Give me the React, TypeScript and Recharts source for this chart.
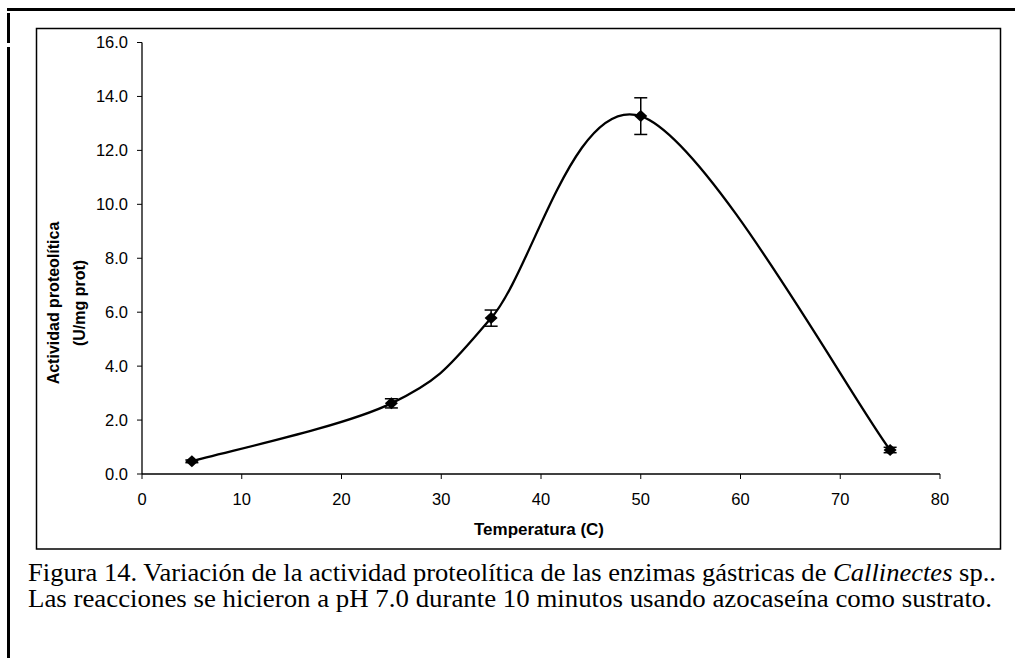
import React from "react";
import { LineChart, Line, XAxis, YAxis, ErrorBar } from "recharts";

// Actividad proteolítica vs temperatura
const temperatures = [5, 25, 35, 50, 75];
const activity = [0.47, 2.62, 5.78, 13.27, 0.89];
const activityError = [0.05, 0.17, 0.3, 0.68, 0.1];

const xTicks = [0, 10, 20, 30, 40, 50, 60, 70, 80];
const yTicks = [0, 2, 4, 6, 8, 10, 12, 14, 16];

const data = temperatures.map((t, i) => ({
  t,
  value: activity[i],
  err: activityError[i],
}));

// smoothed line like the spreadsheet one (catmull-rom tangents, 1/6)
const smoothCurve = (context: any) => {
  let pts: number[][] = [];
  return {
    areaStart() {},
    areaEnd() {},
    lineStart() {
      pts = [];
    },
    point(x: number, y: number) {
      pts.push([+x, +y]);
    },
    lineEnd() {
      const n = pts.length;
      if (!n) return;
      context.moveTo(pts[0][0], pts[0][1]);
      for (let i = 0; i < n - 1; i++) {
        const p0 = pts[Math.max(i - 1, 0)];
        const p1 = pts[i];
        const p2 = pts[i + 1];
        const p3 = pts[Math.min(i + 2, n - 1)];
        context.bezierCurveTo(
          p1[0] + (p2[0] - p0[0]) / 6,
          p1[1] + (p2[1] - p0[1]) / 6,
          p2[0] - (p3[0] - p1[0]) / 6,
          p2[1] - (p3[1] - p1[1]) / 6,
          p2[0],
          p2[1]
        );
      }
    },
  };
};

const renderDiamond = (props: any) => {
  const { cx, cy, index } = props;
  if (cx == null || cy == null) return null;
  return (
    <polygon
      key={`d-${index}`}
      points={`${cx},${cy - 6} ${cx + 6.5},${cy} ${cx},${cy + 6} ${cx - 6.5},${cy}`}
      fill="#000"
    />
  );
};

const tickStyle = { fill: "#000", fontSize: 16.5, fontFamily: "'Liberation Sans', Arial, sans-serif" };
const titleFont = "'Liberation Sans', Arial, sans-serif";
const captionFont = "'Liberation Serif', 'Times New Roman', serif";

const App: React.FC = () => {
  return (
    <div style={{ position: "absolute", left: 0, top: 0, width: 1015, height: 658, background: "#fff", overflow: "hidden" }}>
      <div style={{ position: "absolute", left: 0, top: 0 }}>
        <LineChart width={1015} height={658} data={data} margin={{ top: 42.5, right: 75, bottom: 124, left: 42 }}>
          <XAxis
            type="number"
            dataKey="t"
            domain={[0, 80]}
            ticks={xTicks}
            interval={0}
            height={60}
            tickSize={5}
            tickMargin={14}
            tick={tickStyle}
            axisLine={{ stroke: "#000", strokeWidth: 1.3 }}
            tickLine={{ stroke: "#000" }}
          />
          <YAxis
            type="number"
            domain={[0, 16]}
            ticks={yTicks}
            interval={0}
            width={100}
            tickSize={5}
            tickMargin={9}
            tickFormatter={(v: number) => v.toFixed(1)}
            tick={tickStyle}
            axisLine={{ stroke: "#000", strokeWidth: 1.3 }}
            tickLine={{ stroke: "#000" }}
          />
          <Line
            dataKey="value"
            type={smoothCurve as any}
            stroke="#000"
            strokeWidth={2.3}
            dot={renderDiamond}
            activeDot={false}
            isAnimationActive={false}
          >
            <ErrorBar dataKey="err" direction="y" width={6.5} stroke="#000" strokeWidth={1.5} isAnimationActive={false} />
          </Line>
        </LineChart>
      </div>
      <svg width={1015} height={658} style={{ position: "absolute", left: 0, top: 0, pointerEvents: "none" }}>
        <rect x={7} y={8} width={1008} height={3} fill="#000" />
        <rect x={7} y={13} width={3} height={30} fill="#000" />
        <rect x={7} y={47} width={3} height={611} fill="#000" />
        <rect x={36.5} y={28.5} width={964} height={520.5} fill="none" stroke="#000" strokeWidth={1.5} />
        <g transform="translate(59,303) rotate(-90)">
          <text textAnchor="middle" style={{ fontFamily: titleFont }} fontWeight="bold" fontSize={16} fill="#000">
            Actividad proteolítica
          </text>
        </g>
        <g transform="translate(85,303) rotate(-90)">
          <text textAnchor="middle" style={{ fontFamily: titleFont }} fontWeight="bold" fontSize={16} fill="#000">
            (U/mg prot)
          </text>
        </g>
        <text x={539} y={535} textAnchor="middle" style={{ fontFamily: titleFont }} fontWeight="bold" fontSize={17} fill="#000">
          Temperatura (C)
        </text>
        <text x={28} y={581} style={{ fontFamily: captionFont }} fontSize={25} fill="#000" textLength={968} lengthAdjust="spacingAndGlyphs">
          Figura 14. Variación de la actividad proteolítica de las enzimas gástricas de{" "}
          <tspan fontStyle="italic">Callinectes</tspan> sp..
        </text>
        <text x={28} y={607} style={{ fontFamily: captionFont }} fontSize={25} fill="#000" textLength={964} lengthAdjust="spacingAndGlyphs">
          Las reacciones se hicieron a pH 7.0 durante 10 minutos usando azocaseína como sustrato.
        </text>
      </svg>
    </div>
  );
};

export default App;
